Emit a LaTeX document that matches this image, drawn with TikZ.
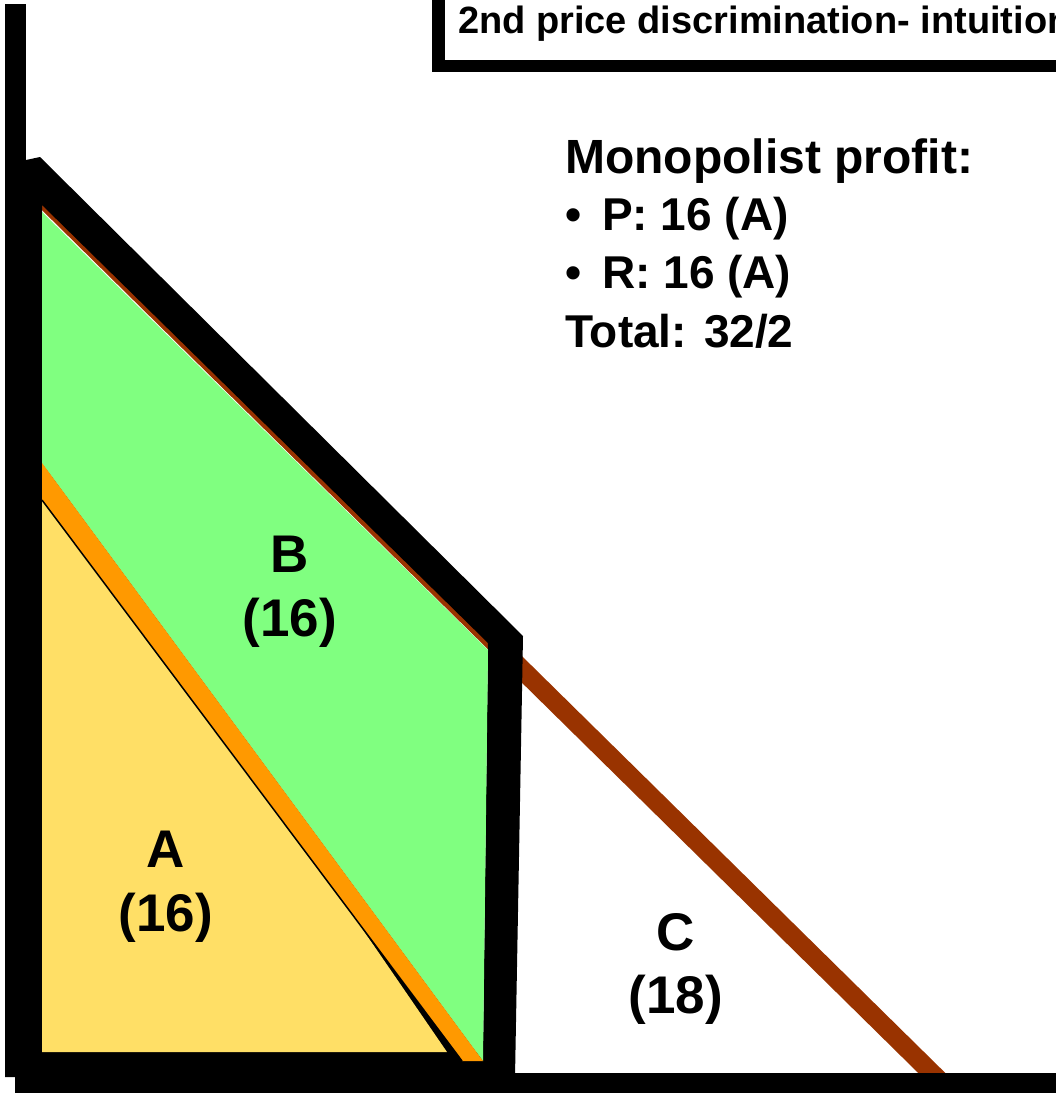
\documentclass[tikz,border=0pt]{standalone}
\usepackage{fontspec}
\setmainfont{Liberation Sans}
\definecolor{brownline}{HTML}{993300}
\definecolor{greenB}{HTML}{80FF80}
\definecolor{yellowA}{HTML}{FFDF66}
\definecolor{orangeL}{HTML}{FF9900}
\begin{document}
\begin{tikzpicture}[x=1pt,y=-1pt,
  lbl/.style={font=\fontsize{53}{62}\selectfont\bfseries, inner sep=0pt, anchor=base},
  txt/.style={font=\fontsize{46}{58}\selectfont\bfseries, inner sep=0pt, anchor=base west},
  ttl/.style={font=\fontsize{38}{44}\selectfont\bfseries, inner sep=0pt, anchor=base west}]
\useasboundingbox (0,0) rectangle (1056,1095);
\clip (0,0) rectangle (1056,1095);
% demand line
\draw[brownline, line width=19] (30,185) -- (945,1086);
% thick black outline of the A+B region
\fill[black, even odd rule]
  (26,160) -- (40,157) -- (523,636) -- (515,1077) -- (5,1077) -- (5,160) -- cycle
  (42,205) -- (488,643) -- (483,1052) -- (42,1052) -- cycle;
% black under the A triangle
\fill[black] (42,463) -- (42,1061) -- (483,1061) -- cycle;
% area A
\fill[yellowA] (42,463) -- (447,1052) -- (42,1052) -- cycle;
% area B
\fill[greenB] (42,212) -- (488,650) -- (483,1061) -- (42,463) -- cycle;
% orange line
\fill[orangeL] (42,463) -- (483,1061) -- (462,1061) -- (42,500) -- cycle;
\draw[line width=1.5] (42,500) -- (462,1061);
% axes
\fill[black] (5,4) rectangle (26,1077);
\fill[black] (15,1073) rectangle (1060,1093);
% title box
\fill[white] (438,-20) rectangle (1080,66);
\draw[line width=12.5] (438.5,-20) -- (438.5,66) -- (1080,66);
\node[ttl] (title) at (458,33) {2nd price discrimination- intuition};
% profit text
\node[txt, font=\fontsize{48}{58}\selectfont\bfseries] (mp) at (565,173) {Monopolist profit:};
\node[txt] (b1) at (565,230) {•};
\node[txt] (p) at (602,230) {P: 16 (A)};
\node[txt] (b2) at (565,288) {•};
\node[txt] (r) at (602,288) {R: 16 (A)};
\node[txt] (tot) at (565,347) {Total: 32/2};
% area labels
\node[lbl] (bl) at (290,572) {B};
\node[lbl] (bv) at (290,636) {(16)};
\node[lbl] (al) at (166,867) {A};
\node[lbl] (av) at (166,931) {(16)};
\node[lbl] (cl) at (676,950) {C};
\node[lbl] (cv) at (676,1013) {(18)};
\end{tikzpicture}
\end{document}
